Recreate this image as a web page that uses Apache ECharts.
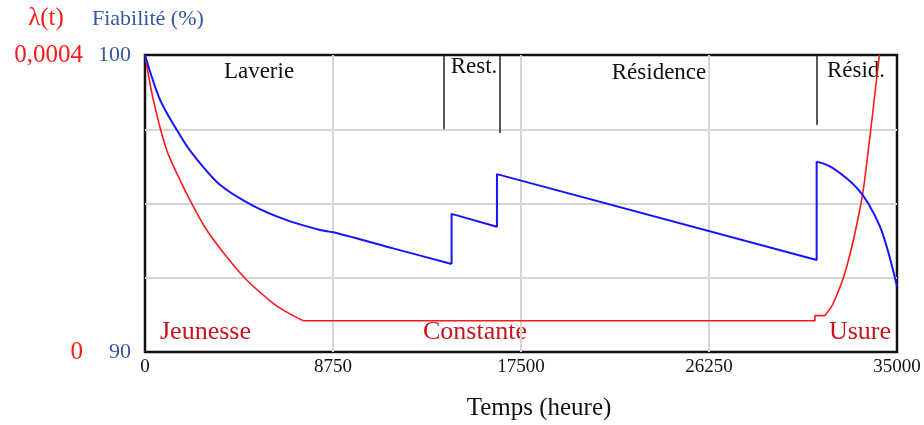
<!DOCTYPE html>
<html>
<head>
<meta charset="utf-8">
<script src="https://cdn.jsdelivr.net/npm/echarts@6/dist/echarts.min.js"></script>
<style>
  html, body { margin: 0; padding: 0; background: #fff; }
  #chart { width: 924px; height: 425px; }
</style>
</head>
<body>
<div id="chart"></div>
<script>
// Time axis (hours)
const timeTicks = [0, 8750, 17500, 26250, 35000];

// Reliability R(t) in %, in three pieces: initial decay, maintenance saw-tooth, end-of-life drop
const relDecayTime = [0, 698, 1629, 2250, 3490, 5040, 6594, 8145, 8765, 11550, 14270];
const relDecayValue = [100, 98.5, 97.3, 96.64, 95.63, 94.92, 94.44, 94.11, 94.03, 93.49, 92.96];
const relServiceTime = [14270, 14270, 16380, 16380, 31260, 31260];
const relServiceValue = [92.96, 94.65, 94.22, 95.99, 93.1, 96.41];
const relEndTime = [31260, 31880, 32650, 33200, 33665, 34210, 34560, 34905, 35000];
const relEndValue = [96.41, 96.25, 95.85, 95.47, 95.0, 94.22, 93.45, 92.5, 92.2];

// Failure rate lambda(t): infant mortality, constant phase, wear-out
const lamYouthTime = [0, 388, 1008, 1629, 2250, 2870, 3800, 4730, 5970, 6700, 7370];
const lamYouthValue = [4.0e-4, 3.394e-4, 2.72e-4, 2.316e-4, 1.957e-4, 1.643e-4, 1.283e-4, 0.97e-4, 0.656e-4, 0.52e-4, 0.42e-4];
const lamFlatTime = [7370, 31180, 31180, 31650];
const lamFlatValue = [0.42e-4, 0.42e-4, 0.49e-4, 0.49e-4];
const lamWearTime = [31650, 32035, 32660, 33355, 33665, 33900, 34180];
const lamWearValue = [0.49e-4, 0.656e-4, 1.149e-4, 2.047e-4, 2.72e-4, 3.3e-4, 4.0e-4];

// Usage phase boundaries (time) and how far down each marker reaches (in %)
const phaseBoundTime = [13900, 16500, 31250];
const phaseBoundLow = [97.5, 97.37, 97.64];

// Phase names along the top and life-cycle stage names along the bottom
const phaseNames = ['Laverie', 'Rest.', 'Résidence', 'Résid.'];
const stageNames = ['Jeunesse', 'Constante', 'Usure'];

const SERIF = '"Liberation Serif", "Times New Roman", serif';
const BLUE_TXT = '#3558a0';
const BLUE = '#1414ff';
const RED = '#ff1a1a';
const DARK_RED = '#c8141e';
const GRID_GREY = '#d6d6d6';

const chart = echarts.init(document.getElementById('chart'), null, { renderer: 'canvas' });

const pairs = (xs, ys) => xs.map((x, i) => [x, ys[i]]);

const phasePos = [
  { x: 259, y: 72 }, { x: 474, y: 67 }, { x: 659, y: 73 }, { x: 856, y: 71 }
];
const stagePos = [
  { x: 160, y: 332, align: 'left' }, { x: 423, y: 332, align: 'left' }, { x: 891, y: 332, align: 'right' }
];

const graphics = [];
phaseNames.forEach((t, i) => graphics.push({
  type: 'text', x: phasePos[i].x, y: phasePos[i].y, silent: true,
  style: { text: t, fill: '#111', font: '23px ' + SERIF, textAlign: 'center', textVerticalAlign: 'middle' }
}));
stageNames.forEach((t, i) => graphics.push({
  type: 'text', x: stagePos[i].x, y: stagePos[i].y, silent: true,
  style: { text: t, fill: DARK_RED, font: '26px ' + SERIF, textAlign: stagePos[i].align, textVerticalAlign: 'middle' }
}));
graphics.push({
  type: 'text', x: 46, y: 18, silent: true,
  style: { text: 'λ(t)', fill: RED, font: '25px ' + SERIF, textAlign: 'center', textVerticalAlign: 'middle' }
});
graphics.push({
  type: 'text', x: 92, y: 19, silent: true,
  style: { text: 'Fiabilité (%)', fill: BLUE_TXT, font: '22px ' + SERIF, textAlign: 'left', textVerticalAlign: 'middle' }
});
graphics.push({
  type: 'text', x: 539, y: 408, silent: true,
  style: { text: 'Temps (heure)', fill: '#111', font: '25px ' + SERIF, textAlign: 'center', textVerticalAlign: 'middle' }
});

const curve = (name, yAxisIndex, xs, ys, color, width, smooth, extra) => Object.assign({
  name, type: 'line', yAxisIndex, showSymbol: false, symbol: 'none',
  smooth: smooth ? 0.3 : false,
  data: pairs(xs, ys),
  lineStyle: { color, width },
  z: yAxisIndex === 0 ? 3 : 2
}, extra || {});

chart.setOption({
  animation: false,
  backgroundColor: '#fff',
  grid: {
    left: 145, right: 27, top: 55, bottom: 73,
    show: true, borderColor: '#111', borderWidth: 2.5, backgroundColor: 'transparent'
  },
  xAxis: {
    type: 'value', min: timeTicks[0], max: timeTicks[timeTicks.length - 1], interval: timeTicks[1] - timeTicks[0],
    axisLine: { show: false }, axisTick: { show: false },
    splitLine: { show: true, showMinLine: false, showMaxLine: false, lineStyle: { color: GRID_GREY, width: 2 } },
    axisLabel: { color: '#111', fontFamily: SERIF, fontSize: 19, margin: 6, formatter: v => String(v) }
  },
  yAxis: [
    {
      type: 'value', min: 90, max: 100, interval: 2.5, position: 'left',
      axisLine: { show: false }, axisTick: { show: false },
      splitLine: { show: true, showMinLine: false, showMaxLine: false, lineStyle: { color: GRID_GREY, width: 2 } },
      axisLabel: {
        color: BLUE_TXT, fontFamily: SERIF, fontSize: 22, margin: 14,
        formatter: v => (v === 90 || v === 100) ? String(v) : ''
      }
    },
    {
      type: 'value', min: 0, max: 0.0004, interval: 0.0004, position: 'left', offset: 50,
      axisLine: { show: false }, axisTick: { show: false }, splitLine: { show: false },
      axisLabel: {
        color: RED, fontFamily: SERIF, fontSize: 25, margin: 12,
        formatter: v => String(v).replace('.', ',')
      }
    }
  ],
  series: [
    curve('Fiabilité', 0, relDecayTime, relDecayValue, BLUE, 2, true),
    curve('Fiabilité', 0, relServiceTime, relServiceValue, BLUE, 2, false, {
      markLine: {
        silent: true, symbol: 'none', label: { show: false },
        lineStyle: { color: '#222', width: 1.5, type: 'solid' },
        data: phaseBoundTime.map((t, i) => [{ coord: [t, 100] }, { coord: [t, phaseBoundLow[i]] }])
      }
    }),
    curve('Fiabilité', 0, relEndTime, relEndValue, BLUE, 2, true),
    curve('λ(t)', 1, lamYouthTime, lamYouthValue, RED, 1.6, true),
    curve('λ(t)', 1, lamFlatTime, lamFlatValue, RED, 1.6, false),
    curve('λ(t)', 1, lamWearTime, lamWearValue, RED, 1.6, true)
  ],
  graphic: graphics
});
</script>
</body>
</html>
